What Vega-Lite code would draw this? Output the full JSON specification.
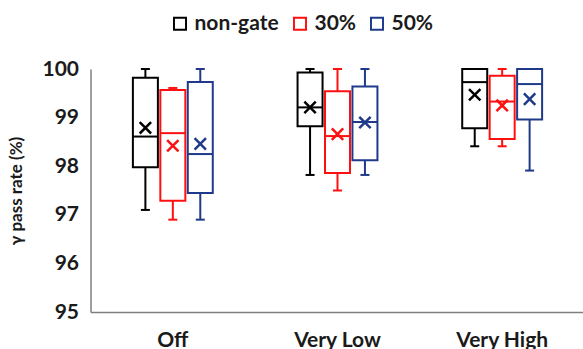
{
  "$schema": "https://vega.github.io/schema/vega-lite/v6.json",
  "width": 494,
  "height": 243,
  "autosize": {"type": "none"},
  "padding": {"left": 90.5, "top": 69, "right": 0, "bottom": 37},
  "background": "white",
  "config": {
    "view": {"stroke": null},
    "font": "Lato"
  },
  "data": {
    "values": [
      {"group": "Off", "series": "non-gate", "lo": 97.10, "q1": 97.98, "median": 98.61, "q3": 99.82, "hi": 100.0, "mean": 98.79},
      {"group": "Off", "series": "30%", "lo": 96.90, "q1": 97.29, "median": 98.68, "q3": 99.57, "hi": 99.61, "mean": 98.42},
      {"group": "Off", "series": "50%", "lo": 96.90, "q1": 97.45, "median": 98.25, "q3": 99.73, "hi": 100.0, "mean": 98.46},
      {"group": "Very Low", "series": "non-gate", "lo": 97.82, "q1": 98.82, "median": 99.21, "q3": 99.93, "hi": 100.0, "mean": 99.21},
      {"group": "Very Low", "series": "30%", "lo": 97.50, "q1": 97.86, "median": 98.62, "q3": 99.54, "hi": 100.0, "mean": 98.66},
      {"group": "Very Low", "series": "50%", "lo": 97.82, "q1": 98.12, "median": 98.91, "q3": 99.64, "hi": 100.0, "mean": 98.90},
      {"group": "Very High", "series": "non-gate", "lo": 98.41, "q1": 98.78, "median": 99.73, "q3": 100.0, "hi": 100.0, "mean": 99.47},
      {"group": "Very High", "series": "30%", "lo": 98.41, "q1": 98.56, "median": 99.33, "q3": 99.86, "hi": 100.0, "mean": 99.25},
      {"group": "Very High", "series": "50%", "lo": 97.91, "q1": 98.96, "median": 99.69, "q3": 100.0, "hi": 100.0, "mean": 99.38}
    ]
  },
  "encoding": {
    "x": {
      "field": "group", "type": "nominal", "sort": ["Off", "Very Low", "Very High"],
      "scale": {"paddingInner": 0.5, "paddingOuter": 0.25},
      "axis": {"title": null, "ticks": false, "labelAngle": 0, "domainColor": "#7f7f7f", "domainWidth": 1.5,
               "labelFontSize": 21, "labelFontWeight": "bold", "labelColor": "#1a1a1a", "labelPadding": 17}
    },
    "xOffset": {"field": "series", "type": "nominal", "sort": ["non-gate", "30%", "50%"],
                "scale": {"paddingInner": 0, "paddingOuter": 0}}
  },
  "layer": [
    {
      "mark": {"type": "bar", "fill": "white", "strokeWidth": 2, "size": 25},
      "encoding": {
        "y": {"field": "q1", "type": "quantitative", "scale": {"domain": [95, 100], "nice": false},
              "axis": {"title": "γ pass rate (%)", "values": [95, 96, 97, 98, 99, 100], "grid": false, "ticks": false,
                       "domainColor": "#7f7f7f", "domainWidth": 1.5, "labelFontSize": 21, "labelFontWeight": "bold",
                       "labelColor": "#1a1a1a", "labelPadding": 12, "titleFontSize": 17, "titleFontWeight": "bold",
                       "titleColor": "#1a1a1a", "titlePadding": 16}},
        "y2": {"field": "q3"},
        "stroke": {
          "field": "series", "type": "nominal",
          "scale": {"domain": ["non-gate", "30%", "50%"], "range": ["#000000", "#ff1010", "#1f3a8a"]},
          "legend": {
            "title": null, "orient": "none", "direction": "horizontal", "legendX": 79, "legendY": -56,
            "symbolType": "M-1,-1L1,-1L1,1L-1,1Z M-0.72,-0.72L-0.72,0.72L0.72,0.72L0.72,-0.72Z",
            "symbolSize": 196, "symbolStrokeWidth": 0,
            "labelFontSize": 21, "labelFontWeight": "bold", "labelColor": "#1a1a1a", "labelOffset": 4,
            "columnPadding": 10
          }
        }
      }
    },
    {
      "mark": {"type": "rule", "strokeWidth": 2},
      "encoding": {
        "y": {"field": "lo", "type": "quantitative"},
        "y2": {"field": "q1"},
        "color": {"field": "series", "type": "nominal", "legend": null,
                  "scale": {"domain": ["non-gate", "30%", "50%"], "range": ["#000000", "#ff1010", "#1f3a8a"]}}
      }
    },
    {
      "mark": {"type": "rule", "strokeWidth": 2},
      "encoding": {
        "y": {"field": "q3", "type": "quantitative"},
        "y2": {"field": "hi"},
        "color": {"field": "series", "type": "nominal", "legend": null}
      }
    },
    {
      "mark": {"type": "tick", "size": 25, "thickness": 2, "opacity": 1},
      "encoding": {"y": {"field": "median", "type": "quantitative"},
                   "color": {"field": "series", "type": "nominal", "legend": null}}
    },
    {
      "mark": {"type": "tick", "size": 9, "thickness": 2, "opacity": 1},
      "encoding": {"y": {"field": "lo", "type": "quantitative"},
                   "color": {"field": "series", "type": "nominal", "legend": null}}
    },
    {
      "mark": {"type": "tick", "size": 9, "thickness": 2, "opacity": 1},
      "encoding": {"y": {"field": "hi", "type": "quantitative"},
                   "color": {"field": "series", "type": "nominal", "legend": null}}
    },
    {
      "mark": {"type": "point", "shape": "M-1,-1L1,1M1,-1L-1,1", "filled": false, "size": 130, "strokeWidth": 2.5, "opacity": 1},
      "encoding": {"y": {"field": "mean", "type": "quantitative"},
                   "color": {"field": "series", "type": "nominal", "legend": null}}
    }
  ]
}
